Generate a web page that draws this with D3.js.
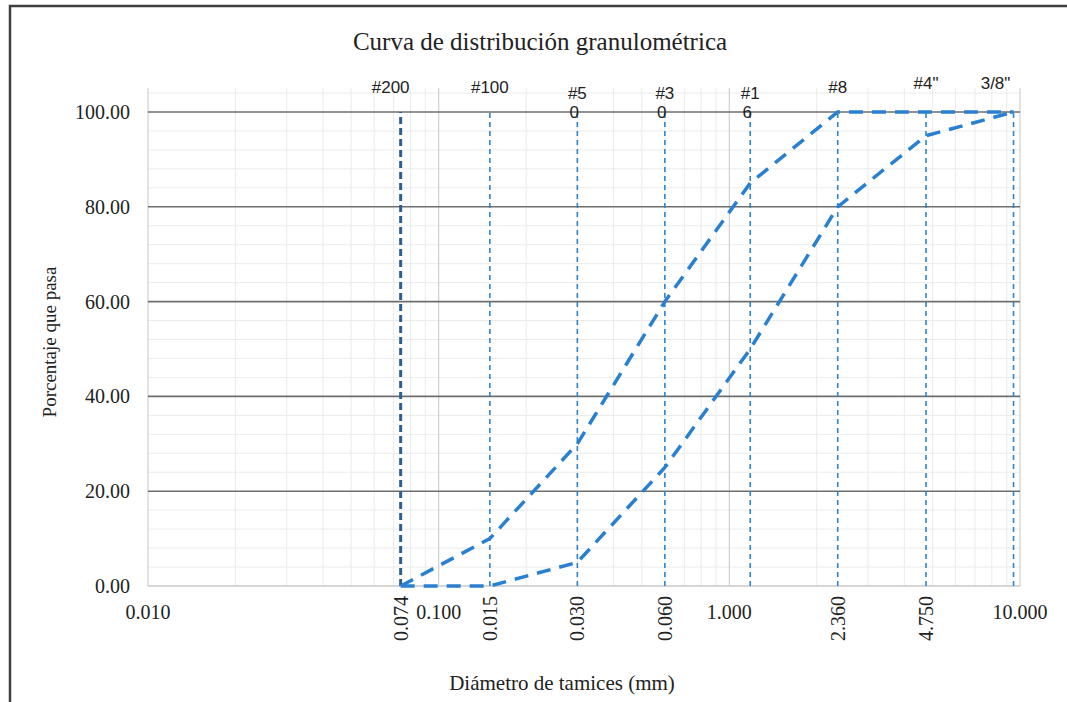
<!DOCTYPE html>
<html><head><meta charset="utf-8">
<script src="https://cdn.jsdelivr.net/npm/d3@7"></script>
<style>body{margin:0;background:#fff;}svg{display:block;}</style>
</head><body>
<svg id="c" width="1067" height="702"></svg>
<script>
// ---- data ----
const sieveNames = ["#200", "#100", "#50", "#30", "#16", "#8", "#4\"", "3/8\""];
const sieveSizes = [0.074, 0.15, 0.3, 0.6, 1.18, 2.36, 4.75, 9.5];
const sieveTickLabels = ["0.074", "0.015", "0.030", "0.060", "", "2.360", "4.750", ""];
const upperCurve = [0, 10, 30, 60, 85, 100, 100, 100];
const lowerCurve = [0, 0, 5, 25, 50, 80, 95, 100];
const xMajorTicks = [0.01, 0.1, 1, 10];
const yTicks = [0, 20, 40, 60, 80, 100];

const svg = d3.select("#c");
const serif = "'Liberation Serif','Times New Roman',serif";
const sans = "'Liberation Sans',Arial,sans-serif";

// frame
svg.append("rect").attr("x", 10).attr("y", 6).attr("width", 1080).attr("height", 720)
  .attr("fill", "none").attr("stroke", "#404040").attr("stroke-width", 2.5);

const x = d3.scaleLog().domain([0.01, 10]).range([148, 1020]);
const y = d3.scaleLinear().domain([0, 100]).range([586, 112]);
const yTop = 105;

const g = svg.append("g");
// minor vertical grid
const minorX = [];
[0.01, 0.1, 1].forEach(d => { for (let k = 2; k <= 9; k++) minorX.push(d * k); });
g.selectAll(".vmin").data(minorX).enter().append("line")
  .attr("x1", d => x(d)).attr("x2", d => x(d)).attr("y1", y(0)).attr("y2", y(yTop))
  .attr("stroke", "#ebebeb").attr("stroke-width", 1);
// minor horizontal grid
const minorY = d3.range(0, yTop, 4).filter(v => v % 20 !== 0);
g.selectAll(".hmin").data(minorY).enter().append("line")
  .attr("x1", x(0.01)).attr("x2", x(10)).attr("y1", d => y(d)).attr("y2", d => y(d))
  .attr("stroke", "#ebebeb").attr("stroke-width", 1);
// major vertical grid
g.selectAll(".vmaj").data(xMajorTicks).enter().append("line")
  .attr("x1", d => x(d)).attr("x2", d => x(d)).attr("y1", y(0)).attr("y2", y(yTop))
  .attr("stroke", "#cfcfcf").attr("stroke-width", 1.2);
// major horizontal grid
g.selectAll(".hmaj").data(yTicks.filter(v => v > 0)).enter().append("line")
  .attr("x1", x(0.01)).attr("x2", x(10)).attr("y1", d => y(d)).attr("y2", d => y(d))
  .attr("stroke", "#6e6e6e").attr("stroke-width", 1.6);
// bottom axis line
g.append("line").attr("x1", x(0.01)).attr("x2", x(10)).attr("y1", y(0)).attr("y2", y(0))
  .attr("stroke", "#c8c8c8").attr("stroke-width", 1.5);

// y tick labels
svg.selectAll(".yl").data(yTicks).enter().append("text")
  .attr("x", 130).attr("y", d => y(d)).attr("dy", "0.35em")
  .attr("text-anchor", "end").attr("font-family", serif).attr("font-size", 20)
  .attr("fill", "#222").text(d => d.toFixed(2));

// x major tick labels
svg.selectAll(".xl").data(xMajorTicks).enter().append("text")
  .attr("x", d => x(d)).attr("y", 619)
  .attr("text-anchor", "middle").attr("font-family", serif).attr("font-size", 20)
  .attr("fill", "#222").text(d => d.toFixed(3));

// sieve rotated labels
const sieveData = sieveSizes.map((s, i) => ({ s, name: sieveNames[i], lab: sieveTickLabels[i], up: upperCurve[i], lo: lowerCurve[i] }));
svg.selectAll(".sl").data(sieveData.filter(d => d.lab)).enter().append("text")
  .attr("transform", d => `translate(${x(d.s) + 7},596) rotate(-90)`)
  .attr("text-anchor", "end").attr("font-family", serif).attr("font-size", 20)
  .attr("fill", "#222").text(d => d.lab);

// sieve vertical dashed lines
svg.selectAll(".sv").data(sieveData).enter().append("line")
  .attr("x1", d => x(d.s)).attr("x2", d => x(d.s)).attr("y1", y(0)).attr("y2", y(100))
  .attr("stroke", (d, i) => i === 0 ? "#2b5f93" : "#2a86d1")
  .attr("stroke-width", (d, i) => i === 0 ? 3 : 1.6)
  .attr("stroke-dasharray", (d, i) => i === 0 ? "7,4" : "5,4");

// sieve name labels (wrap two-line for #50, #30, #16)
const nameG = svg.selectAll(".sn").data(sieveData).enter().append("text")
  .attr("font-family", sans).attr("font-size", 17).attr("fill", "#222")
  .attr("text-anchor", "middle");
nameG.each(function(d, i) {
  const t = d3.select(this);
  const cx = x(d.s);
  const wrap = ["#50", "#30", "#16"].includes(d.name);
  if (wrap) {
    t.append("tspan").attr("x", cx).attr("y", 99).text(d.name.slice(0, 2));
    t.append("tspan").attr("x", cx - 3).attr("y", 118).text(d.name.slice(2));
  } else {
    let dx = 0;
    if (i === 0) dx = -10;
    if (i === sieveData.length - 1) dx = -18;
    t.append("tspan").attr("x", cx + dx).attr("y", i >= 6 ? 89 : 93).text(d.name);
  }
});

// curves
const line = d3.line().x(d => x(d[0])).y(d => y(d[1]));
[upperCurve, lowerCurve].forEach(arr => {
  svg.append("path").datum(sieveSizes.map((s, i) => [s, arr[i]]))
    .attr("d", line).attr("fill", "none").attr("stroke", "#2a80d0")
    .attr("stroke-width", 3.5).attr("stroke-dasharray", "14,9");
});

// titles
svg.append("text").attr("x", 540).attr("y", 50).attr("text-anchor", "middle")
  .attr("font-family", serif).attr("font-size", 25).attr("fill", "#222")
  .text("Curva de distribución granulométrica");
svg.append("text").attr("x", 562).attr("y", 690).attr("text-anchor", "middle")
  .attr("font-family", serif).attr("font-size", 21).attr("fill", "#222")
  .text("Diámetro de tamices (mm)");
svg.append("text").attr("transform", "translate(56,342) rotate(-90)").attr("text-anchor", "middle")
  .attr("font-family", serif).attr("font-size", 19).attr("fill", "#222")
  .text("Porcentaje que pasa");
</script>
</body></html>
